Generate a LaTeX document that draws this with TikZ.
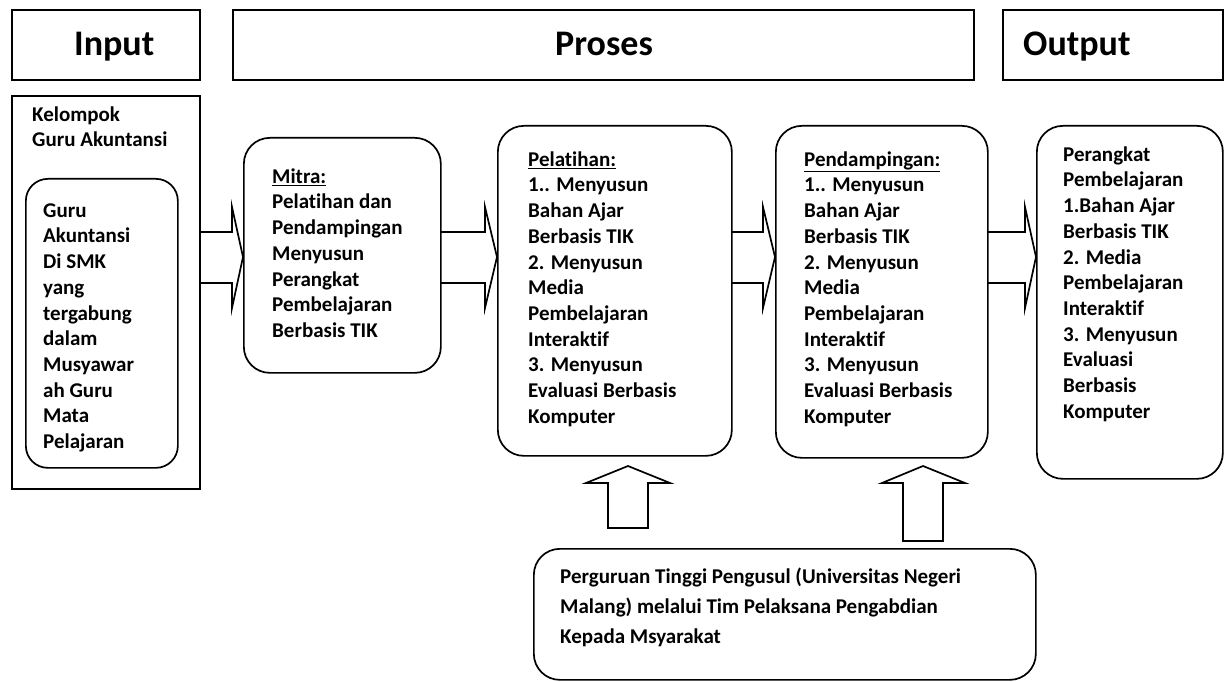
\documentclass[tikz,border=0pt]{standalone}
\usepackage{fontspec}
\setmainfont{Carlito}[Ligatures={NoCommon,NoContextual},RawFeature={-liga;-clig;-dlig}]
\newcommand\fl{\rule{0pt}{16pt}}
\begin{document}
\begin{tikzpicture}[x=1pt,y=-1pt,
  box/.style={draw, line width=1.7pt, inner sep=0pt, anchor=north west},
  rbox/.style={box, rounded corners=26pt},
  blk/.style={draw, line width=1.7pt, line join=miter},
  headtxt/.style={font=\fontsize{36}{43}\selectfont\bfseries, anchor=base west, inner sep=0pt},
  txt/.style={font=\fontsize{21}{25.7}\selectfont\bfseries, align=left, anchor=north west, inner sep=0pt},
  wtxt/.style={txt, font=\fontsize{21}{30}\selectfont\bfseries}]
\useasboundingbox (0,0) rectangle (1224,682);
% header boxes
\node[box, minimum width=188pt, minimum height=70pt] (hin) at (11,9) {};
\node[box, minimum width=741pt, minimum height=70pt] (hpro) at (232,9) {};
\node[box, minimum width=220pt, minimum height=70pt] (hout) at (1002,9) {};
\node[headtxt] (tin) at (74,56) {Input};
\node[headtxt] (tpro) at (555,56) {Proses};
\node[headtxt] (tout) at (1023,56) {Output};
% input boxes
\node[box, minimum width=188pt, minimum height=393pt] (kel) at (11,95) {};
\node[box, rounded corners=22pt, minimum width=152pt, minimum height=289pt] (guru) at (25,178) {};
\node[txt] (tkel) at (32,105) {\fl Kelompok\\Guru Akuntansi};
\node[txt] (tguru) at (43,201) {\fl Guru\\Akuntansi\\Di SMK\\yang\\tergabung\\dalam\\Musyawar\\ah Guru\\Mata\\Pelajaran};
% process boxes
\node[rbox, minimum width=197pt, minimum height=235pt] (mitra) at (243,137) {};
\node[txt] (tmitra) at (272,167) {\fl\underline{Mitra:}\\Pelatihan dan\\Pendampingan\\Menyusun\\Perangkat\\Pembelajaran\\Berbasis TIK};
\node[rbox, minimum width=234pt, minimum height=330pt] (pel) at (497,125) {};
\node[txt] (tpel) at (528,150) {\fl\underline{Pelatihan:}\\1.. Menyusun\\Bahan Ajar\\Berbasis TIK\\2. Menyusun\\Media\\Pembelajaran\\Interaktif\\3. Menyusun\\Evaluasi Berbasis\\Komputer};
\node[rbox, minimum width=212pt, minimum height=332pt] (pend) at (775,125) {};
\node[txt] (tpend) at (804,150) {\fl\underline{Pendampingan:}\\1.. Menyusun\\Bahan Ajar\\Berbasis TIK\\2. Menyusun\\Media\\Pembelajaran\\Interaktif\\3. Menyusun\\Evaluasi Berbasis\\Komputer};
% output box
\node[rbox, minimum width=186pt, minimum height=353pt] (out) at (1036,125) {};
\node[txt] (tout2) at (1063,145) {\fl Perangkat\\Pembelajaran\\1.Bahan Ajar\\Berbasis TIK\\2. Media\\Pembelajaran\\Interaktif\\3. Menyusun\\Evaluasi\\Berbasis\\Komputer};
% bottom box
\node[rbox, minimum width=502pt, minimum height=131pt] (pt) at (533,548) {};
\node[wtxt] (tpt) at (560,567) {\fl Perguruan Tinggi Pengusul (Universitas Negeri\\Malang) melalui Tim Pelaksana Pengabdian\\Kepada Msyarakat};
% block arrows right
\draw[blk] (199,232) -- (232,232) -- (232,207) -- (243,257) -- (232,308) -- (232,283) -- (199,283);
\draw[blk] (440,232) -- (485,232) -- (485,207) -- (497,257) -- (485,308) -- (485,283) -- (440,283);
\draw[blk] (731,232) -- (763,232) -- (763,207) -- (775,257) -- (763,308) -- (763,283) -- (731,283);
\draw[blk] (987,232) -- (1025,232) -- (1025,207) -- (1036,257) -- (1025,308) -- (1025,283) -- (987,283);
% block arrows up
\draw[blk] (608,528) -- (608,483) -- (586,483) -- (628,466) -- (670,483) -- (648,483) -- (648,528) -- cycle;
\draw[blk] (903,541) -- (903,483) -- (882,483) -- (923,466) -- (965,483) -- (943,483) -- (943,541) -- cycle;
\end{tikzpicture}
\end{document}
